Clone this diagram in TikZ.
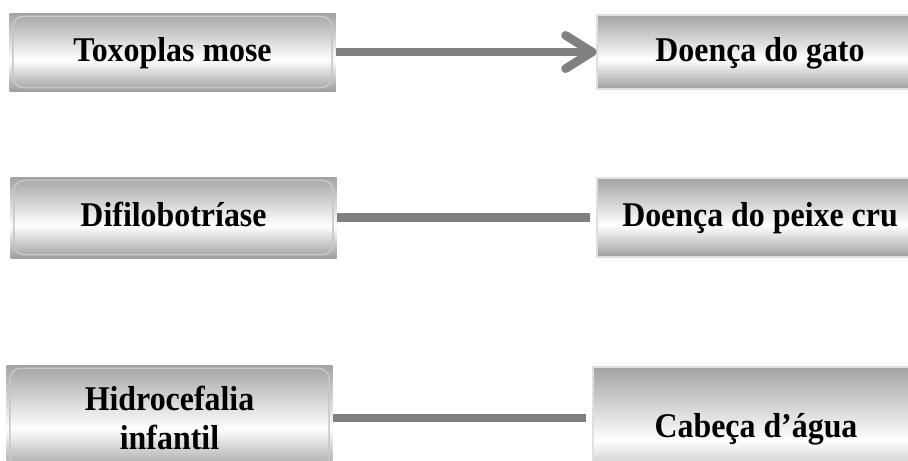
\documentclass[tikz,border=0pt]{standalone}
\usepackage{fontspec}
\setmainfont{Liberation Serif}[FakeStretch=0.92]
\usetikzlibrary{arrows.meta}
\definecolor{boxgray}{gray}{0.64}
\definecolor{boxgraydark}{gray}{0.62}
\definecolor{rimgray}{gray}{0.78}
\definecolor{linegray}{gray}{0.5}
\pgfdeclareverticalshading{boxshade}{100bp}{color(0bp)=(boxgraydark); color(25bp)=(boxgraydark); color(45bp)=(white); color(75bp)=(boxgray); color(100bp)=(boxgray)}
\tikzset{
  termbox/.style={rectangle, shading=boxshade, inner sep=0pt, align=center,
    font=\bfseries\fontsize{26}{29}\selectfont, minimum width=244.5pt},
  oneline/.style={text height=19pt, text depth=4.8pt},
  leftbox/.style={termbox, path picture={\draw[rimgray, line width=1.2pt, rounded corners=8pt]
    ([shift={(2.5pt,-2.5pt)}]path picture bounding box.north west) rectangle
    ([shift={(-2.5pt,2.5pt)}]path picture bounding box.south east);}},
  rightbox/.style={termbox, draw=gray!25, line width=0.8pt},
  link/.style={linegray, line width=6.5pt}
}
\begin{document}
\begin{tikzpicture}[x=0.75pt, y=-0.75pt]
\useasboundingbox (0,0) rectangle (908,461);
\clip (0,0) rectangle (908,461);
\node[leftbox, oneline, minimum height=58.5pt] (toxo) at (172.5,52) {Toxoplas mose};
\node[rightbox, oneline, minimum height=55.5pt] (gato) at (760,52) {Doença do gato};
\node[leftbox, oneline, minimum height=60.75pt] (difilo) at (173.5,217.5) {Difilobotríase};
\node[rightbox, oneline, minimum height=59.25pt] (peixe) at (760,217.5) {Doença do peixe cru};
\node[leftbox, minimum height=79.5pt] (hidro) at (169.5,418) {Hidrocefalia\\infantil};
\node[rightbox, oneline, minimum height=91.5pt] (cabeca) at (756,428) {Cabeça d’água};
\draw[link, -{Straight Barb[length=20pt, width=25pt, round]}] (toxo) -- (gato);
\draw[link, shorten >=4.5pt] (difilo) -- (peixe);
\draw[link, shorten >=4.5pt] (hidro.east) -- (cabeca.west |- hidro.east);
\end{tikzpicture}
\end{document}
